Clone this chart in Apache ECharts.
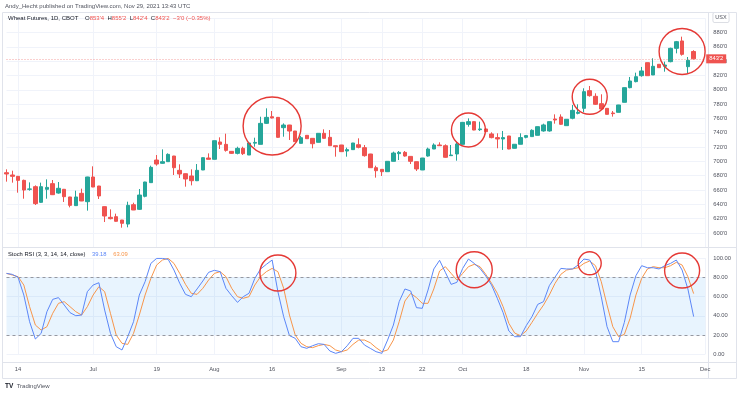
<!DOCTYPE html>
<html><head><meta charset="utf-8">
<script src="https://cdn.jsdelivr.net/npm/echarts@6.0.0/dist/echarts.min.js"></script>
<style>html,body{margin:0;padding:0;background:#fff}#c{width:739px;height:393px}</style>
</head><body><div id="c"></div>
<script>
const categories = [
'06-10','06-11','06-14','06-15','06-16','06-17','06-18','06-21','06-22','06-23','06-24','06-25','06-28','06-29','06-30',
'07-01','07-02','07-06','07-07','07-08','07-09','07-12','07-13','07-14','07-15','07-16','07-19','07-20','07-21','07-22','07-23','07-26','07-27','07-28','07-29','07-30',
'08-02','08-03','08-04','08-05','08-06','08-09','08-10','08-11','08-12','08-13','08-16','08-17','08-18','08-19','08-20','08-23','08-24','08-25','08-26','08-27','08-30','08-31',
'09-01','09-02','09-03','09-07','09-08','09-09','09-10','09-13','09-14','09-15','09-16','09-17','09-20','09-21','09-22','09-23','09-24','09-27','09-28','09-29','09-30',
'10-01','10-04','10-05','10-06','10-07','10-08','10-11','10-12','10-13','10-14','10-15','10-18','10-19','10-20','10-21','10-22','10-25','10-26','10-27','10-28','10-29',
'11-01','11-02','11-03','11-04','11-05','11-08','11-09','11-10','11-11','11-12','11-15','11-16','11-17','11-18','11-19','11-22','11-23','11-24','11-26','11-29',
'11-30','12-01'];
const timeTickLabels = {2:'14',15:'Jul',26:'19',36:'Aug',46:'16',58:'Sep',65:'13',72:'22',79:'Oct',90:'18',100:'Nov',110:'15',121:'Dec'};

const opens = [684.2,681.0,679.1,673.5,661.0,664.7,642.8,661.0,668.9,655.8,
661.0,650.3,638.2,655.4,643.7,678.2,665.6,636.8,621.9,622.8,
618.1,612.5,639.5,633.0,651.2,670.3,701.9,697.3,699.6,707.5,
687.5,682.8,679.6,673.0,688.0,704.7,702.9,727.1,723.8,714.0,
711.2,718.2,708.9,725.5,723.8,753.1,762.4,761.5,747.1,750.8,
742.4,725.2,736.4,732.2,726.6,739.2,733.6,721.9,722.9,714.5,
716.4,723.3,719.2,710.3,691.2,688.9,685.6,700.1,710.8,712.6,
707.0,699.6,688.0,707.5,717.3,722.9,721.9,708.0,710.3,723.8,
751.7,755.5,744.3,745.3,738.3,733.2,731.3,735.5,718.3,723.9,
733.6,734.6,736.4,742.5,742.5,759.2,762.0,749.9,760.2,767.1,
774.1,798.8,790.9,780.6,774.1,767.6,768.5,782.5,803.0,811.4,
819.7,837.9,820.7,835.6,832.8,839.3,857.9,868.2,832.3,853.5];
const highs = [688.9,687.0,679.6,674.5,670.7,666.5,670.3,674.9,674.0,671.2,
661.5,650.5,659.1,661.9,678.5,693.1,665.8,637.0,633.0,627.0,
618.3,643.7,642.3,661.4,671.5,694.0,708.9,716.8,711.2,707.7,
695.9,683.0,688.9,696.3,705.5,711.2,729.0,733.6,738.7,714.5,
720.5,720.5,727.5,733.1,762.4,774.1,770.4,762.0,753.1,751.0,
742.5,735.4,736.5,732.3,739.3,744.8,743.8,722.0,723.0,719.2,
725.8,732.2,722.9,710.5,694.0,689.0,700.2,713.6,714.5,714.5,
707.1,699.7,704.8,719.2,725.2,726.6,723.8,722.9,727.5,755.0,
760.1,756.0,755.5,745.5,740.6,739.2,742.5,735.6,724.0,739.2,
736.9,744.8,748.6,752.7,755.6,765.7,765.7,758.9,778.8,779.7,
802.1,805.3,795.1,793.7,774.2,770.4,779.0,803.1,817.9,823.9,
831.9,838.0,844.0,835.7,839.3,858.8,868.2,874.2,845.8,855.25];
const lows = [671.7,670.3,656.3,647.9,659.1,639.1,642.0,647.9,653.0,654.9,
643.3,635.8,638.0,644.5,631.2,664.0,647.5,615.3,619.0,615.8,
607.4,607.9,632.0,632.1,649.8,670.0,694.0,696.8,699.5,681.0,
676.8,664.7,666.5,672.5,687.8,702.7,702.7,717.3,713.6,710.3,
709.8,708.9,708.9,720.5,723.8,752.2,760.1,733.1,734.5,729.9,
727.5,725.0,731.3,718.2,726.5,731.7,721.8,706.6,713.5,706.6,
715.9,718.2,706.6,691.0,677.3,679.6,685.5,700.0,701.9,706.6,
696.3,686.6,687.9,706.6,717.2,721.8,705.2,707.9,701.0,723.7,
748.5,743.5,742.5,741.0,732.2,718.3,716.0,717.0,718.0,723.8,
732.2,734.5,736.3,741.5,741.5,752.7,750.9,749.8,758.8,765.7,
768.5,790.4,778.8,771.8,765.5,762.5,768.4,782.4,802.1,810.4,
818.3,819.5,820.6,830.8,825.3,838.4,850.9,847.7,822.5,842.5];
const closes = [682.4,679.1,673.5,660.0,661.5,641.0,664.7,663.7,653.5,662.4,
650.7,638.6,650.3,644.7,678.2,664.2,651.7,623.7,620.0,616.3,
613.5,638.6,632.1,653.0,671.2,691.7,696.3,699.6,709.8,691.2,
682.4,675.4,673.0,687.5,705.2,702.9,728.9,723.8,715.4,711.2,
718.2,710.8,725.7,726.5,753.1,761.5,760.6,733.6,750.8,742.4,
727.5,733.1,731.7,724.7,739.2,732.2,721.9,720.5,713.6,716.4,
725.7,719.6,708.0,691.2,687.0,685.6,700.1,711.7,712.6,707.5,
700.1,689.4,704.7,717.3,722.9,721.9,705.7,708.9,724.3,754.5,
755.5,743.8,745.3,741.5,733.2,731.3,733.2,717.3,723.9,733.2,
736.0,743.4,748.5,750.9,755.5,757.8,751.8,758.8,771.3,768.5,
797.4,791.8,779.7,773.2,765.7,766.7,778.8,803.0,812.3,818.3,
826.3,819.7,832.8,830.9,834.6,857.9,867.2,849.5,841.2,843.25];

const stochK = [84.1,83.1,80.0,61.6,33.9,15.9,21.8,44.3,57.1,58.9,
51.2,43.3,40.1,40.8,65.1,72.0,74.4,46.0,21.8,7.9,
4.5,18.3,33.9,61.6,75.5,94.5,99.7,99.7,98.7,87.6,
73.8,62.3,59.9,67.9,76.2,85.2,87.3,85.9,68.6,60.9,
54.0,59.9,63.4,78.9,88.7,93.5,98.0,65.1,39.1,19.4,
16.6,7.9,6.2,8.9,11.0,10.3,3.4,1.0,2.7,8.9,
16.6,16.6,9.6,6.2,2.7,1.0,14.8,30.4,54.7,67.9,
65.8,48.5,47.8,66.8,88.7,97.7,85.2,72.7,74.8,89.3,
99.0,94.5,89.3,81.4,72.0,58.2,43.3,24.2,18.3,18.3,
29.7,39.1,51.9,54.7,71.3,80.3,89.3,88.7,88.7,92.8,
99.0,98.0,86.6,59.9,28.7,13.1,13.1,33.2,61.6,81.7,
92.1,90.0,90.0,88.7,92.1,94.5,98.0,87.6,67.9,39.18];
const stochD = [84.1,82.4,80.7,72.0,49.5,30.4,25.2,28.7,42.6,53.0,
54.7,49.5,44.3,40.8,49.5,61.6,70.3,65.1,42.6,20.0,
11.4,10.3,21.8,40.8,61.6,78.9,92.8,98.0,99.7,94.5,
84.1,72.7,63.4,62.3,68.6,77.2,84.1,85.9,80.7,68.6,
59.9,58.2,59.9,72.0,80.7,85.9,89.3,85.9,68.6,40.8,
20.0,11.4,7.9,6.9,9.0,10.3,9.0,4.5,2.7,4.5,
10.3,14.8,14.8,12.0,6.9,2.7,4.5,14.8,33.9,55.4,
63.4,58.9,53.0,53.0,67.9,86.6,91.1,84.1,77.2,84.1,
91.1,93.5,91.1,83.1,73.8,63.4,49.5,32.2,22.1,19.4,
24.2,33.2,42.6,51.2,61.6,73.8,83.1,87.6,88.7,90.0,
94.5,97.0,92.1,75.5,51.2,28.7,18.3,20.7,37.4,61.6,
78.9,88.7,91.1,90.0,90.0,92.1,95.6,92.8,80.7,63.09];

const lastPrice = 843.25;
const rsiBand = [20, 80];
// annotation circles: [gridIndex, categoryIndex, value, radiusPx]
const circleNotes = [[0,46.1,749.4,29],[0,80.3,743.8,17],[0,101,790.2,17.5],[0,117,853.5,23],
                     [1,47,84.5,18],[1,81.1,87.9,18],[1,101,94.6,11.5],[1,116.9,87.1,17.5]];

const FONT = "'Liberation Sans', Arial, sans-serif";
const UP = '#26a69a', DOWN = '#ef5350';
const K_COLOR = '#5b86f7', D_COLOR = '#f7954a';
const fmtPrice = v => Math.floor(v) + "'" + Math.round((v - Math.floor(v)) * 8);
const candleData = opens.map((o, i) => [o, closes[i], lows[i], highs[i]]);
const showTick = (idx) => timeTickLabels[idx] !== undefined;

const chart = echarts.init(document.getElementById('c'), null, {renderer: 'canvas'});
const gridL = 6.5, gridR = 739 - 705.2;
const option = {
  animation: false,
  backgroundColor: '#ffffff',
  grid: [
    {left: gridL, right: gridR, top: 18.2, height: 229.1},
    {left: gridL, right: gridR, top: 258.1, height: 96.2}
  ],
  xAxis: [
    {type: 'category', gridIndex: 0, data: categories, boundaryGap: false,
     axisLine: {show: false}, axisTick: {show: false}, axisLabel: {show: false},
     splitLine: {show: true, interval: showTick, lineStyle: {color: '#f0f3fa', width: 1}}},
    {type: 'category', gridIndex: 1, data: categories, boundaryGap: false,
     axisLine: {show: false}, axisTick: {show: false},
     axisLabel: {show: true, interval: showTick, formatter: (v, i) => timeTickLabels[i] || '',
       margin: 12, fontSize: 5.8, color: '#50535e', fontFamily: FONT},
     splitLine: {show: true, interval: showTick, lineStyle: {color: '#f0f3fa', width: 1}}}
  ],
  yAxis: [
    {type: 'value', gridIndex: 0, position: 'right', min: 580, max: 900, interval: 20,
     axisLine: {show: false}, axisTick: {show: false},
     axisLabel: {showMinLabel: false, showMaxLabel: false, formatter: v => fmtPrice(v),
       margin: 8, fontSize: 5.8, color: '#50535e', fontFamily: FONT},
     splitLine: {show: true, lineStyle: {color: '#f0f3fa', width: 1}}},
    {type: 'value', gridIndex: 1, position: 'right', min: 0, max: 100, interval: 20,
     axisLine: {show: false}, axisTick: {show: false},
     axisLabel: {formatter: v => v.toFixed(2), margin: 8, fontSize: 5.8, color: '#50535e', fontFamily: FONT},
     splitLine: {show: true, lineStyle: {color: '#f0f3fa', width: 1}}}
  ],
  series: [
    {type: 'candlestick', xAxisIndex: 0, yAxisIndex: 0, data: candleData, barWidth: 4, clip: false,
     itemStyle: {color: UP, color0: DOWN, borderColor: UP, borderColor0: DOWN, borderWidth: 1},
     markLine: {silent: true, symbol: 'none', animation: false,
       data: [{yAxis: lastPrice}],
       lineStyle: {color: 'rgba(239,83,80,0.55)', type: [1, 2], width: 1},
       label: {show: true, position: 'end', distance: 1, formatter: fmtPrice(lastPrice),
         backgroundColor: DOWN, color: '#ffffff', padding: [2, 3, 1, 3], fontSize: 5.8, fontFamily: FONT}}},
    {type: 'line', xAxisIndex: 1, yAxisIndex: 1, data: stochK, symbol: 'none', z: 4,
     lineStyle: {color: K_COLOR, width: 1}, itemStyle: {color: K_COLOR},
     markArea: {silent: true, data: [[{yAxis: rsiBand[0]}, {yAxis: rsiBand[1]}]],
       itemStyle: {color: 'rgba(33,150,243,0.1)'}},
     markLine: {silent: true, symbol: 'none', label: {show: false},
       data: [{yAxis: rsiBand[1]}, {yAxis: rsiBand[0]}],
       lineStyle: {color: '#9598a1', type: [3, 3], width: 1}}},
    {type: 'line', xAxisIndex: 1, yAxisIndex: 1, data: stochD, symbol: 'none', z: 3,
     lineStyle: {color: D_COLOR, width: 1}, itemStyle: {color: D_COLOR}}
  ]
};
chart.setOption(option);

const frame = '#e0e3eb';
const statics = [
  {type: 'rect', shape: {x: 2.5, y: 12.5, width: 734, height: 366}, style: {fill: 'none', stroke: frame, lineWidth: 1}, z: 1},
  {type: 'line', shape: {x1: 2.5, y1: 247.5, x2: 736.5, y2: 247.5}, style: {stroke: frame, lineWidth: 1}},
  {type: 'line', shape: {x1: 2.5, y1: 362.5, x2: 736.5, y2: 362.5}, style: {stroke: frame, lineWidth: 1}},
  {type: 'line', shape: {x1: 708.5, y1: 12.5, x2: 708.5, y2: 378.5}, style: {stroke: frame, lineWidth: 1}},
  {type: 'text', x: 5, y: 6, style: {text: 'Andy_Hecht published on TradingView.com, Nov 29, 2021 13:43 UTC',
    fontSize: 6, fill: '#50535e', fontFamily: FONT, verticalAlign: 'middle'}},
  {type: 'text', x: 8, y: 18.5, style: {
    text: "{a|Wheat Futures, 1D, CBOT}  {a|O}{r|853'4} {a|H}{r|855'2} {a|L}{r|842'4} {a|C}{r|843'2} {r|\u22123'0 (\u22120.35%)}",
    verticalAlign: 'middle', fontFamily: FONT,
    rich: {a: {fontSize: 6, fill: '#131722', fontFamily: FONT}, r: {fontSize: 6, fill: DOWN, fontFamily: FONT}}}},
  {type: 'text', x: 8, y: 254, style: {
    text: "{a|Stoch RSI (3, 3, 14, 14, close)}  {b|39.18}  {o|63.09}",
    verticalAlign: 'middle', fontFamily: FONT,
    rich: {a: {fontSize: 5.8, fill: '#131722', fontFamily: FONT}, b: {fontSize: 5.8, fill: K_COLOR, fontFamily: FONT}, o: {fontSize: 5.8, fill: D_COLOR, fontFamily: FONT}}}},
  {type: 'text', x: 721, y: 17.5, style: {text: 'USX', fontSize: 5.5, fill: '#50535e', fontFamily: FONT,
    align: 'center', verticalAlign: 'middle', backgroundColor: '#fff', borderColor: '#d1d4dc', borderWidth: 0.8, borderRadius: 1, padding: [1.5, 2]}},
  {type: 'text', x: 5, y: 386, style: {text: '{l|TV} {t|TradingView}', verticalAlign: 'middle',
    rich: {l: {fontSize: 6.5, fontWeight: 'bold', fill: '#131722', fontFamily: FONT}, t: {fontSize: 6, fill: '#50535e', fontFamily: FONT}}}}
];
const circles = circleNotes.map(([g, i, v, r]) => {
  const p = chart.convertToPixel({gridIndex: g}, [i, v]);
  return {type: 'circle', shape: {cx: p[0], cy: p[1], r: r}, z: 100,
    style: {fill: 'none', stroke: '#e53935', lineWidth: 1.4}};
});
chart.setOption({graphic: statics.concat(circles)});
</script></body></html>
